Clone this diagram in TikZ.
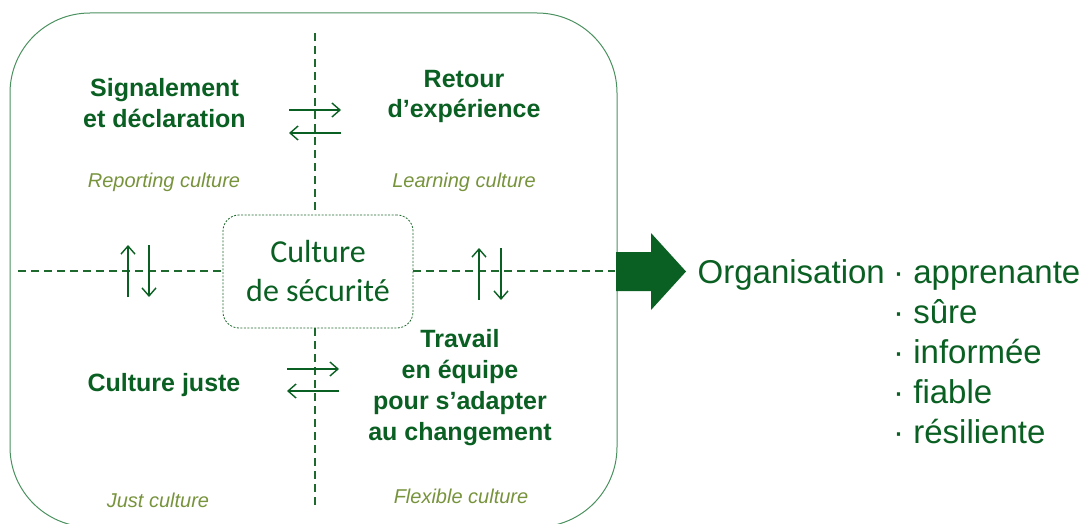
\documentclass[tikz,border=0pt]{standalone}
\usepackage{fontspec}
\setmainfont{Liberation Sans}
\newfontfamily\calfont{Carlito}
\usetikzlibrary{arrows.meta}
\definecolor{dgreen}{RGB}{10,95,34}
\definecolor{olive}{RGB}{119,147,60}
\definecolor{rectgreen}{RGB}{75,145,95}
\definecolor{dashgreen}{RGB}{30,105,45}
\tikzset{
  bt/.style={font=\bfseries\fontsize{25}{31}\selectfont, text=dgreen, align=center, inner sep=0pt, anchor=base},
  it/.style={font=\itshape\fontsize{20}{24}\selectfont, text=olive, inner sep=0pt, anchor=base},
  rt/.style={font=\fontsize{33}{40}\selectfont, text=dgreen, inner sep=0pt, anchor=base},
  sep/.style={draw=dashgreen, line width=1.3pt, dash pattern=on 8pt off 5pt},
  arr/.style={draw=dgreen, line width=1.4pt, -{Straight Barb[length=8pt,width=14pt,line width=1.4pt]}},
}
\begin{document}
\begin{tikzpicture}[x=1pt,y=-1pt]
\useasboundingbox (0,0) rectangle (1084,524);
% outer frame
\draw[rectgreen, line width=1pt, rounded corners=80pt] (10,13) rectangle (617,527);
% central box
\node[draw=dashgreen, line width=0.8pt, dash pattern=on 2pt off 1.5pt, rounded corners=16pt,
      minimum width=190pt, minimum height=113pt, inner sep=0pt,
      font=\calfont\fontsize{32}{39}\selectfont, text=dgreen, align=center] (cs) at (318,271.5) {Culture\\de sécurité};
% separators
\coordinate (vt) at (315,33);
\coordinate (vb) at (315,508);
\coordinate (hl) at (18,271);
\coordinate (hr) at (615,271);
\draw[sep] (vt) -- (vt |- cs.north);
\draw[sep] (vb |- cs.south) -- (vb);
\draw[sep] (hl) -- (hl -| cs.west);
\draw[sep] (cs.east |- hr) -- (hr);
% quadrant titles (base anchor = last line baseline)
\node[bt] (sig) at (164.5,128) {Signalement\\et déclaration};
\node[bt] (ret) at (464,118) {Retour\\d’expérience};
\node[bt] (cj) at (164,391) {Culture juste};
\node[bt] (trav) at (460,440) {Travail\\en équipe\\pour s’adapter\\au changement};
\node[it] (rep) at (164,187) {Reporting culture};
\node[it] (lea) at (464,187) {Learning culture};
\node[it] (jus) at (158,507) {Just culture};
\node[it] (fle) at (461,503) {Flexible culture};
% small arrows
\coordinate (a1s) at (289,110); \coordinate (a1e) at (341,110);
\coordinate (a2s) at (341,133); \coordinate (a2e) at (289,133);
\coordinate (a3s) at (287,369); \coordinate (a3e) at (339,369);
\coordinate (a4s) at (339,391); \coordinate (a4e) at (287,391);
\coordinate (a5s) at (128,297); \coordinate (a5e) at (128,245);
\coordinate (a6s) at (149,245); \coordinate (a6e) at (149,297);
\coordinate (a7s) at (479,300); \coordinate (a7e) at (479,248);
\coordinate (a8s) at (501,248); \coordinate (a8e) at (501,300);
\draw[arr] (a1s) -- (a1e);
\draw[arr] (a2s) -- (a2e);
\draw[arr] (a3s) -- (a3e);
\draw[arr] (a4s) -- (a4e);
\draw[arr] (a5s) -- (a5e);
\draw[arr] (a6s) -- (a6e);
\draw[arr] (a7s) -- (a7e);
\draw[arr] (a8s) -- (a8e);
% big arrow
\fill[dgreen] (616,252) -- (651,252) -- (651,233) -- (686,271.5) -- (651,310) -- (651,291) -- (616,291) -- cycle;
% right text
\node[rt, anchor=base east] (org) at (885,283) {Organisation};
\node[rt, anchor=base west, align=left] (lst) at (893,443) {· apprenante\\· sûre\\· informée\\· fiable\\· résiliente};
\end{tikzpicture}
\end{document}
